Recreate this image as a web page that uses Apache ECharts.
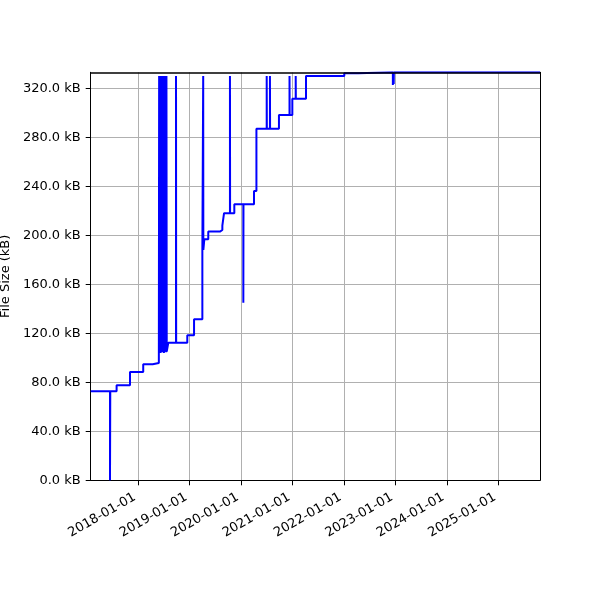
<!DOCTYPE html>
<html><head><meta charset="utf-8">
<script src="https://cdn.jsdelivr.net/npm/echarts@6/dist/echarts.min.js"></script>
<style>html,body{margin:0;padding:0;background:#fff}#c{width:600px;height:600px}</style>
</head><body><div id="c"></div>
<script>
// File size history (step plot, value held until next change)
const dates = [
  '2017-01-28','2017-06-14','2017-06-16','2017-07-31','2017-11-03','2018-02-05','2018-04-13','2018-05-27',
  '2018-05-29','2018-05-31','2018-06-02','2018-06-04','2018-06-06','2018-06-08','2018-06-10','2018-06-12',
  '2018-06-14','2018-06-16','2018-06-18','2018-06-20','2018-06-22','2018-06-24','2018-06-26','2018-06-28',
  '2018-06-30','2018-07-02','2018-07-04','2018-07-06','2018-07-08','2018-07-10','2018-07-12','2018-07-14',
  '2018-07-16','2018-07-18','2018-07-20','2018-07-22',
  '2018-08-02','2018-09-26','2018-09-27','2018-12-15','2019-02-01','2019-04-01','2019-04-07','2019-04-08',
  '2019-04-15','2019-05-13','2019-08-04','2019-08-21','2019-09-02','2019-10-14','2019-10-15','2019-11-14',
  '2020-01-17','2020-01-18','2020-04-02','2020-04-19','2020-07-01','2020-07-02','2020-07-24','2020-07-25',
  '2020-09-26','2020-12-10','2020-12-11','2020-12-30','2021-01-23','2021-01-24','2021-04-06','2022-01-03',
  '2022-04-13','2022-12-14','2022-12-15','2022-12-20','2022-12-21','2024-02-16','2024-02-17','2025-10-24'
];
const sizesKB = [
  72.7, 0, 72.7, 77.6, 88.4, 94.7, 95.7, 105.0,
  330, 104.5, 330, 105.5, 330, 104.0, 330, 106.0,
  330, 105.0, 330, 104.5, 330, 106.0, 330, 105.0,
  330, 104.0, 330, 105.5, 330, 105.0, 330, 106.0,
  330, 104.5, 330, 105.0,
  112.3, 330, 112.3, 118.3, 131.4, 188.0, 330, 188.0,
  196.7, 203.0, 204.3, 207.8, 218.0, 330, 218.0, 225.3,
  145.0, 225.3, 236.2, 287.0, 330, 287.0, 330, 287.0,
  298.2, 330, 298.2, 311.5, 330, 311.5, 330, 332.3,
  333.0, 322.7, 333.0, 323.5, 333.0, 331.5, 333.0, 333.0
];
const yTicks = [0, 40, 80, 120, 160, 200, 240, 280, 320];
const xTickDates = ['2018-01-01','2019-01-01','2020-01-01','2021-01-01','2022-01-01','2023-01-01','2024-01-01','2025-01-01'];
const xStart = '2017-01-28', xEnd = '2025-10-24';
const yTop = 333;

function toTs(s){ const p = s.split('-').map(Number); return new Date(p[0], p[1]-1, p[2]).getTime(); }
function pad(n){ return (n < 10 ? '0' : '') + n; }
function fmtDate(v){ const d = new Date(v); return d.getFullYear() + '-' + pad(d.getMonth()+1) + '-' + pad(d.getDate()); }

const seriesData = dates.map((d, i) => [toTs(d), sizesKB[i]]);
const xTicks = xTickDates.map(toTs);
const font = 'DejaVu Sans';

const chart = echarts.init(document.getElementById('c'), null, {renderer: 'canvas'});
chart.setOption({
  animation: false,
  backgroundColor: '#ffffff',
  textStyle: {fontFamily: font},
  grid: {left: 90.7, right: 60, top: 72.3, bottom: 119.7, containLabel: false, outerBoundsMode: 'none'},
  xAxis: [{
    type: 'value', min: toTs(xStart), max: toTs(xEnd), position: 'bottom', scale: true,
    axisLine: {show: true, onZero: false, lineStyle: {color: '#000', width: 1}},
    axisTick: {show: true, length: 5, lineStyle: {color: '#000', width: 1}, customValues: xTicks},
    axisLabel: {show: true, customValues: xTicks, formatter: fmtDate, rotate: 30, margin: 14,
      fontFamily: font, fontSize: 13, color: '#000', padding: [0, 4, 0, 0]},
    splitLine: {show: true, lineStyle: {color: '#b0b0b0', width: 1}},
    minorTick: {show: false}
  }, {
    type: 'value', min: toTs(xStart), max: toTs(xEnd), position: 'top', z: 10, scale: true,
    axisLine: {show: true, onZero: false, lineStyle: {color: '#000', width: 1.6}},
    axisTick: {show: false}, axisLabel: {show: false}, splitLine: {show: false}
  }],
  yAxis: [{
    type: 'value', min: 0, max: yTop, position: 'left',
    name: 'File Size (kB)', nameLocation: 'middle', nameRotate: 90, nameGap: 72,
    nameTextStyle: {fontFamily: font, fontSize: 13, color: '#000'},
    axisLine: {show: true, onZero: false, lineStyle: {color: '#000', width: 1}},
    axisTick: {show: true, length: 5, lineStyle: {color: '#000', width: 1}, customValues: yTicks},
    axisLabel: {show: true, customValues: yTicks, formatter: v => v.toFixed(1) + ' kB', margin: 10,
      fontFamily: font, fontSize: 13, color: '#000'},
    splitLine: {show: true, lineStyle: {color: '#b0b0b0', width: 1}}
  }, {
    type: 'value', min: 0, max: yTop, position: 'right', z: 10,
    axisLine: {show: true, onZero: false, lineStyle: {color: '#000', width: 1}},
    axisTick: {show: false}, axisLabel: {show: false}, splitLine: {show: false}
  }],
  series: [{
    type: 'line', xAxisIndex: 0, yAxisIndex: 0, step: 'end',
    data: seriesData, showSymbol: false, symbol: 'none',
    lineStyle: {color: '#0000ff', width: 2}, itemStyle: {color: '#0000ff'},
    z: 2
  }]
});
</script>
</body></html>
